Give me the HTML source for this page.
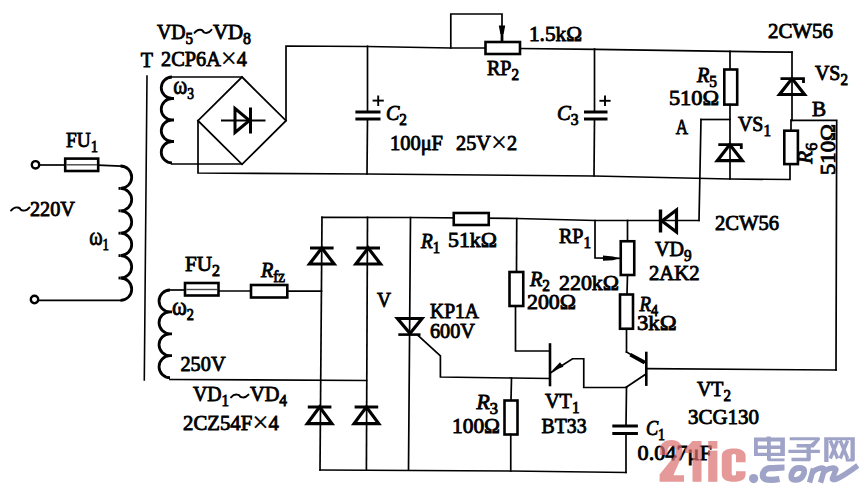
<!DOCTYPE html>
<html><head><meta charset="utf-8"><style>
html,body{margin:0;padding:0;background:#fff;width:859px;height:484px;overflow:hidden}
svg{display:block}
</style></head><body>
<svg width="859" height="484" viewBox="0 0 859 484">
<g fill="none" stroke="#000" stroke-linecap="square" stroke-linejoin="miter">
<circle cx="35.5" cy="164.8" r="3.7" stroke-width="2.4"/>
<circle cx="34.5" cy="299.5" r="3.7" stroke-width="2.4"/>
<path d="M39.00,165.00 L64.50,165.00" stroke-width="1.7"/>
<rect x="65.20" y="158.60" width="33.00" height="12.40" stroke-width="2.6" fill="#fff"/>
<path d="M67,164.8 L96.5,164.8" stroke="#444" stroke-width="1.4"/>
<path d="M98.20,165.20 L120.50,166.00" stroke-width="1.7"/>
<path d="M120.50,166.00 A11.20,11.20 0 0 1 120.50,188.40 A11.20,11.20 0 0 1 120.50,210.80 A11.20,11.20 0 0 1 120.50,233.20 A11.20,11.20 0 0 1 120.50,255.60 A11.20,11.20 0 0 1 120.50,278.00 A11.20,11.20 0 0 1 120.50,300.40" stroke-width="2.8" stroke-linecap="butt"/>
<path d="M120.50,188.40 L118.50,188.40" stroke-width="2.8" stroke-linecap="butt"/>
<path d="M120.50,210.80 L118.50,210.80" stroke-width="2.8" stroke-linecap="butt"/>
<path d="M120.50,233.20 L118.50,233.20" stroke-width="2.8" stroke-linecap="butt"/>
<path d="M120.50,255.60 L118.50,255.60" stroke-width="2.8" stroke-linecap="butt"/>
<path d="M120.50,278.00 L118.50,278.00" stroke-width="2.8" stroke-linecap="butt"/>
<path d="M38.20,300.40 L120.50,300.40" stroke-width="1.7"/>
<path d="M147.00,76.00 L144.30,380.00" stroke-width="1.6"/>
<path d="M172.00,77.00 A10.75,10.75 0 0 0 172.00,98.50 A10.75,10.75 0 0 0 172.00,120.00 A10.75,10.75 0 0 0 172.00,141.50 A10.75,10.75 0 0 0 172.00,163.00" stroke-width="2.8" stroke-linecap="butt"/>
<path d="M172.00,98.50 L174.00,98.50" stroke-width="2.8" stroke-linecap="butt"/>
<path d="M172.00,120.00 L174.00,120.00" stroke-width="2.8" stroke-linecap="butt"/>
<path d="M172.00,141.50 L174.00,141.50" stroke-width="2.8" stroke-linecap="butt"/>
<path d="M172.00,77.00 L242.00,77.00" stroke-width="1.7"/>
<path d="M172.00,164.00 L242.00,164.00" stroke-width="1.7"/>
<path d="M242.00,77.00 L286.00,120.70 L242.00,164.30 L198.00,120.70 Z" stroke-width="1.8"/>
<path d="M222.00,120.50 L264.50,120.50" stroke-width="2"/>
<path d="M235,108.5 L235,132.5 L249.5,120.5 Z" stroke-width="3" stroke-miterlimit="3"/>
<path d="M250.50,109.00 L250.50,132.00" stroke-width="3"/>
<path d="M198.00,120.50 L198.00,173.00 L367.00,174.00 L594.00,176.00 L730.00,179.00 L790.00,179.50 L790.00,164.00" stroke-width="1.7"/>
<path d="M286.00,120.50 L286.00,46.00 L367.50,46.50 L450.80,48.00 L485.50,48.00" stroke-width="1.7"/>
<rect x="485.50" y="42.00" width="34.50" height="12.00" stroke-width="2.6" fill="#fff"/>
<path d="M450.80,48.00 L450.80,14.00 L502.00,14.00 L502.00,41.00" stroke-width="1.7"/>
<path d="M502.00,30.00 L502.00,41.00" stroke-width="2.8"/>
<path d="M498.8,25.5 L505.2,25.5 L503.6,34 L500.4,34 Z" fill="#000" stroke="none"/>
<path d="M520.00,48.50 L596.00,49.30 L730.00,51.40 L792.00,52.20" stroke-width="1.7"/>
<path d="M367.50,46.30 L367.50,111.00" stroke-width="1.7"/>
<path d="M355.40,112.00 L380.50,112.00" stroke-width="3" stroke-linecap="butt"/>
<path d="M355.40,119.00 L380.50,119.00" stroke-width="3" stroke-linecap="butt"/>
<path d="M367.50,119.00 L367.00,174.00" stroke-width="1.7"/>
<path d="M372.60,100.60 L383.80,100.60" stroke-width="1.9" stroke-linecap="butt"/>
<path d="M378.20,95.50 L378.20,106.00" stroke-width="1.9" stroke-linecap="butt"/>
<path d="M594.50,49.00 L594.50,111.00" stroke-width="1.7"/>
<path d="M584.00,112.00 L607.50,112.00" stroke-width="3" stroke-linecap="butt"/>
<path d="M584.00,119.00 L607.50,119.00" stroke-width="3" stroke-linecap="butt"/>
<path d="M594.50,119.00 L594.00,176.00" stroke-width="1.7"/>
<path d="M599.40,100.80 L610.60,100.80" stroke-width="1.9" stroke-linecap="butt"/>
<path d="M605.00,95.50 L605.00,106.00" stroke-width="1.9" stroke-linecap="butt"/>
<path d="M730.00,51.40 L730.00,69.50" stroke-width="1.7"/>
<rect x="724.30" y="69.50" width="12.90" height="35.10" stroke-width="2.6" fill="#fff"/>
<path d="M730.00,104.60 L730.00,179.00" stroke-width="1.7"/>
<path d="M717.30,160.70 L742.30,160.70 L729.80,144.60 Z" stroke-width="3.2" stroke-linejoin="miter" stroke-miterlimit="3"/>
<path d="M718.30,144.60 L741.30,144.60 L741.30,149.10" stroke-width="2.8" stroke-linecap="butt" stroke-linejoin="miter"/>
<path d="M701.00,119.50 L730.00,119.50" stroke-width="1.7"/>
<path d="M701.00,119.50 L699.00,220.50" stroke-width="1.7"/>
<path d="M792.00,52.20 L792.00,120.30" stroke-width="1.7"/>
<path d="M779.50,94.50 L804.50,94.50 L792.00,78.60 Z" stroke-width="3.2" stroke-linejoin="miter" stroke-miterlimit="3"/>
<path d="M780.50,78.60 L803.50,78.60 L803.50,83.10" stroke-width="2.8" stroke-linecap="butt" stroke-linejoin="miter"/>
<path d="M791.50,120.30 L836.70,120.30 L836.00,370.00" stroke-width="1.7"/>
<path d="M791.00,120.00 L791.00,130.70" stroke-width="1.7"/>
<rect x="784.30" y="130.70" width="13.60" height="33.40" stroke-width="2.6" fill="#fff"/>
<path d="M322.00,217.30 L410.50,217.50 L517.00,218.50 L595.00,220.50 L699.00,220.50" stroke-width="1.7"/>
<path d="M322.00,217.30 L320.00,470.00" stroke-width="1.7"/>
<path d="M367.50,217.30 L366.40,470.00" stroke-width="1.7"/>
<path d="M410.50,217.50 L408.50,470.00" stroke-width="1.7"/>
<path d="M309.50,264.00 L334.10,264.00 L321.80,248.00 Z" stroke-width="3.2" stroke-linejoin="miter" stroke-miterlimit="3"/>
<path d="M310.00,248.00 L333.60,248.00" stroke-width="3" stroke-linecap="butt"/>
<path d="M355.90,264.00 L380.50,264.00 L368.20,248.00 Z" stroke-width="3.2" stroke-linejoin="miter" stroke-miterlimit="3"/>
<path d="M356.40,248.00 L380.00,248.00" stroke-width="3" stroke-linecap="butt"/>
<path d="M307.30,423.60 L331.90,423.60 L319.60,407.00 Z" stroke-width="3.2" stroke-linejoin="miter" stroke-miterlimit="3"/>
<path d="M307.80,407.00 L331.40,407.00" stroke-width="3" stroke-linecap="butt"/>
<path d="M354.10,423.60 L378.70,423.60 L366.40,407.00 Z" stroke-width="3.2" stroke-linejoin="miter" stroke-miterlimit="3"/>
<path d="M354.60,407.00 L378.20,407.00" stroke-width="3" stroke-linecap="butt"/>
<path d="M287.30,291.20 L321.50,291.20" stroke-width="1.7"/>
<path d="M170.00,379.50 L366.50,380.50" stroke-width="1.7"/>
<path d="M320.00,470.00 L510.75,471.00 L626.00,472.50" stroke-width="1.7"/>
<path d="M170.00,290.00 A10.95,10.95 0 0 0 170.00,311.90 A10.95,10.95 0 0 0 170.00,333.80 A10.95,10.95 0 0 0 170.00,355.70 A10.95,10.95 0 0 0 170.00,377.60" stroke-width="2.8" stroke-linecap="butt"/>
<path d="M170.00,311.90 L172.00,311.90" stroke-width="2.8" stroke-linecap="butt"/>
<path d="M170.00,333.80 L172.00,333.80" stroke-width="2.8" stroke-linecap="butt"/>
<path d="M170.00,355.70 L172.00,355.70" stroke-width="2.8" stroke-linecap="butt"/>
<path d="M170.00,290.00 L184.50,290.00" stroke-width="1.7"/>
<rect x="185.00" y="283.00" width="33.50" height="12.50" stroke-width="2.6" fill="#fff"/>
<path d="M187,289.5 L216.5,289.5" stroke="#444" stroke-width="1.4"/>
<path d="M219.00,291.00 L251.00,291.00" stroke-width="1.7"/>
<rect x="251.00" y="285.00" width="36.30" height="12.50" stroke-width="2.6" fill="#fff"/>
<path d="M397.5,318.5 L422,318.5 L410,333.5 Z" stroke-width="3.2" stroke-miterlimit="3"/>
<path d="M398.30,334.60 L420.50,334.60" stroke-width="2.6" stroke-linecap="butt"/>
<path d="M418.00,335.50 L440.40,355.80 L440.40,377.00 L511.50,378.00 L550.00,378.50" stroke-width="1.7"/>
<rect x="453.75" y="213.00" width="35.00" height="12.00" stroke-width="2.6" fill="#fff"/>
<path d="M516.75,218.50 L516.50,272.00" stroke-width="1.7"/>
<rect x="509.50" y="272.00" width="13.75" height="34.00" stroke-width="2.6" fill="#fff"/>
<path d="M515.50,306.00 L515.50,351.00 L550.00,351.00" stroke-width="1.7"/>
<path d="M595.00,220.50 L595.00,257.80 L620.00,258.30" stroke-width="1.7"/>
<path d="M603,255.6 L613,256.4 L619.5,258.2 L613,260.2 L603,260.8 Z" fill="#000" stroke="none"/>
<path d="M627.50,220.50 L627.50,241.25" stroke-width="1.7"/>
<rect x="620.75" y="241.25" width="13.50" height="33.75" stroke-width="2.6" fill="#fff"/>
<path d="M627.50,275.00 L627.00,294.50" stroke-width="1.7"/>
<rect x="620.00" y="294.50" width="13.00" height="34.25" stroke-width="2.6" fill="#fff"/>
<path d="M626.50,328.75 L626.50,352.00" stroke-width="1.7"/>
<path d="M676.5,210 L676.5,232 L662,221 Z" stroke-width="3.2" stroke-miterlimit="3"/>
<path d="M660.50,209.50 L660.50,232.50" stroke-width="3.4" stroke-linecap="butt"/>
<path d="M550.00,344.50 L550.00,385.00" stroke-width="2.6"/>
<path d="M551.00,372.50 L572.50,358.75 L583.75,358.75 L583.75,387.50 L626.50,387.50" stroke-width="1.7"/>
<path d="M552,370.8 L560,362.2 L563.5,366.8 Z" fill="#000" stroke="none"/>
<path d="M646.30,353.00 L646.30,384.60" stroke-width="2.6"/>
<path d="M626.50,352.00 L646.00,363.20" stroke-width="1.7"/>
<path d="M632.00,355.60 L643.00,361.60" stroke-width="3.8"/>
<path d="M646.00,374.00 L626.50,387.00" stroke-width="1.7"/>
<path d="M646.30,368.70 L836.00,370.00" stroke-width="1.7"/>
<path d="M626.50,387.00 L626.00,426.00" stroke-width="1.7"/>
<path d="M612.30,426.00 L637.90,426.00" stroke-width="3" stroke-linecap="butt"/>
<path d="M612.30,433.50 L637.90,433.50" stroke-width="3" stroke-linecap="butt"/>
<path d="M626.00,433.50 L626.00,472.50" stroke-width="1.7"/>
<path d="M511.50,378.00 L511.00,400.50" stroke-width="1.7"/>
<rect x="504.50" y="400.50" width="13.00" height="34.00" stroke-width="2.6" fill="#fff"/>
<path d="M510.75,434.50 L510.75,471.00" stroke-width="1.7"/>
<path d="M194.50,32.86 C198.75,27.14 203.00,30.78 203.00,31.30 S207.25,35.46 211.50,29.74" stroke-width="1.9" stroke-linecap="round"/>
<path d="M11.00,210.56 C15.65,204.84 20.30,208.48 20.30,209.00 S24.95,213.16 29.60,207.44" stroke-width="1.9" stroke-linecap="round"/>
<path d="M231.00,397.38 C235.38,392.32 239.75,395.54 239.75,396.00 S244.12,399.68 248.50,394.62" stroke-width="1.9" stroke-linecap="round"/>
</g>
<g font-family="Liberation Serif" fill="#000" stroke="#000" stroke-width="0.85">
<text x="156.99" y="38.70" font-size="21.00" textLength="36.03" lengthAdjust="spacingAndGlyphs" id="vd5"><tspan>VD</tspan><tspan dy="5.04" font-size="15.96">5</tspan></text>
<text x="212.97" y="38.70" font-size="21.00" textLength="38.06" lengthAdjust="spacingAndGlyphs" id="vd8"><tspan>VD</tspan><tspan dy="5.04" font-size="15.96">8</tspan></text>
<text x="140.79" y="67.30" font-size="21.63" textLength="12.24" lengthAdjust="spacingAndGlyphs" id="T"><tspan>T</tspan></text>
<text x="160.99" y="65.60" font-size="21.00" textLength="86.02" lengthAdjust="spacingAndGlyphs" id="2cp6a"><tspan>2CP6A</tspan><tspan dy="2.52" font-size="29.40" stroke-width="0.25">×</tspan><tspan dy="-2.52" font-size="21.00">4</tspan></text>
<text x="65.97" y="146.70" font-size="21.00" textLength="32.07" lengthAdjust="spacingAndGlyphs" id="fu1"><tspan>FU</tspan><tspan dy="5.04" font-size="15.96">1</tspan></text>
<text x="29.98" y="216.40" font-size="21.00" textLength="45.04" lengthAdjust="spacingAndGlyphs" id="220v"><tspan>220V</tspan></text>
<text x="89.19" y="244.50" font-size="21.00" textLength="19.82" lengthAdjust="spacingAndGlyphs" id="w1"><tspan font-size="25.20">ω</tspan><tspan dy="5.04" font-size="15.96">1</tspan></text>
<text x="173.34" y="93.50" font-size="21.00" textLength="20.71" lengthAdjust="spacingAndGlyphs" id="w3"><tspan font-size="25.20">ω</tspan><tspan dy="5.04" font-size="15.96">3</tspan></text>
<text x="528.94" y="40.90" font-size="21.00" textLength="53.11" lengthAdjust="spacingAndGlyphs" id="1.5k"><tspan>1.5kΩ</tspan></text>
<text x="486.97" y="74.50" font-size="21.00" textLength="32.03" lengthAdjust="spacingAndGlyphs" id="rp2"><tspan>RP</tspan><tspan dy="5.04" font-size="15.96">2</tspan></text>
<text x="385.94" y="120.30" font-size="21.00" textLength="21.06" lengthAdjust="spacingAndGlyphs" id="c2"><tspan font-style="italic">C</tspan><tspan dy="5.04" font-size="15.96">2</tspan></text>
<text x="389.94" y="149.50" font-size="21.00" textLength="53.06" lengthAdjust="spacingAndGlyphs" id="100uf"><tspan>100μF</tspan></text>
<text x="456.00" y="149.50" font-size="21.00" textLength="61.01" lengthAdjust="spacingAndGlyphs" id="25v"><tspan>25V</tspan><tspan dy="2.52" font-size="29.40" stroke-width="0.25">×</tspan><tspan dy="-2.52" font-size="21.00">2</tspan></text>
<text x="556.95" y="120.30" font-size="21.00" textLength="21.59" lengthAdjust="spacingAndGlyphs" id="c3"><tspan font-style="italic">C</tspan><tspan dy="5.04" font-size="15.96">3</tspan></text>
<text x="696.96" y="81.60" font-size="21.00" textLength="20.08" lengthAdjust="spacingAndGlyphs" id="r5"><tspan font-style="italic">R</tspan><tspan dy="5.04" font-size="15.96">5</tspan></text>
<text x="668.94" y="104.80" font-size="21.00" textLength="50.13" lengthAdjust="spacingAndGlyphs" id="510a"><tspan>510Ω</tspan></text>
<text x="675.87" y="133.70" font-size="21.00" textLength="12.25" lengthAdjust="spacingAndGlyphs" id="A"><tspan>A</tspan></text>
<text x="738.00" y="131.20" font-size="21.00" textLength="33.01" lengthAdjust="spacingAndGlyphs" id="vs1"><tspan>VS</tspan><tspan dy="5.04" font-size="15.96">1</tspan></text>
<text x="767.98" y="37.70" font-size="21.00" textLength="65.02" lengthAdjust="spacingAndGlyphs" id="2cw56a"><tspan>2CW56</tspan></text>
<text x="814.96" y="79.50" font-size="21.00" textLength="33.04" lengthAdjust="spacingAndGlyphs" id="vs2"><tspan>VS</tspan><tspan dy="5.04" font-size="15.96">2</tspan></text>
<text x="811.94" y="116.20" font-size="21.00" textLength="14.12" lengthAdjust="spacingAndGlyphs" id="B"><tspan>B</tspan></text>
<text x="185.00" y="270.50" font-size="21.00" textLength="35.03" lengthAdjust="spacingAndGlyphs" id="fu2"><tspan>FU</tspan><tspan dy="5.04" font-size="15.96">2</tspan></text>
<text x="260.95" y="277.00" font-size="21.00" textLength="24.11" lengthAdjust="spacingAndGlyphs" id="rfz"><tspan font-style="italic">R</tspan><tspan dy="5.04" font-size="15.96">fz</tspan></text>
<text x="171.94" y="315.00" font-size="21.00" textLength="22.06" lengthAdjust="spacingAndGlyphs" id="w2"><tspan font-size="25.20">ω</tspan><tspan dy="5.04" font-size="15.96">2</tspan></text>
<text x="180.49" y="371.00" font-size="21.00" textLength="45.04" lengthAdjust="spacingAndGlyphs" id="250v"><tspan>250V</tspan></text>
<text x="192.97" y="400.75" font-size="21.00" textLength="36.03" lengthAdjust="spacingAndGlyphs" id="vd1"><tspan>VD</tspan><tspan dy="5.04" font-size="15.96">1</tspan></text>
<text x="249.94" y="400.75" font-size="21.00" textLength="37.13" lengthAdjust="spacingAndGlyphs" id="vd4"><tspan>VD</tspan><tspan dy="5.04" font-size="15.96">4</tspan></text>
<text x="183.00" y="429.50" font-size="21.00" textLength="96.00" lengthAdjust="spacingAndGlyphs" id="2cz54"><tspan>2CZ54F</tspan><tspan dy="2.52" font-size="29.40" stroke-width="0.25">×</tspan><tspan dy="-2.52" font-size="21.00">4</tspan></text>
<text x="377.00" y="307.00" font-size="21.00" textLength="14.00" lengthAdjust="spacingAndGlyphs" id="V"><tspan>V</tspan></text>
<text x="430.00" y="318.40" font-size="21.00" textLength="49.02" lengthAdjust="spacingAndGlyphs" id="kp1a"><tspan>KP1A</tspan></text>
<text x="430.00" y="337.50" font-size="21.00" textLength="45.00" lengthAdjust="spacingAndGlyphs" id="600v"><tspan>600V</tspan></text>
<text x="420.95" y="248.30" font-size="21.00" textLength="19.07" lengthAdjust="spacingAndGlyphs" id="r1"><tspan font-style="italic">R</tspan><tspan dy="5.04" font-size="15.96">1</tspan></text>
<text x="447.96" y="246.50" font-size="21.00" textLength="49.07" lengthAdjust="spacingAndGlyphs" id="51k"><tspan>51kΩ</tspan></text>
<text x="558.95" y="243.20" font-size="21.00" textLength="32.10" lengthAdjust="spacingAndGlyphs" id="rp1"><tspan>RP</tspan><tspan dy="5.04" font-size="15.96">1</tspan></text>
<text x="529.98" y="286.00" font-size="21.00" textLength="20.06" lengthAdjust="spacingAndGlyphs" id="r2"><tspan font-style="italic">R</tspan><tspan dy="5.04" font-size="15.96">2</tspan></text>
<text x="559.00" y="290.00" font-size="21.00" textLength="60.02" lengthAdjust="spacingAndGlyphs" id="220k"><tspan>220kΩ</tspan></text>
<text x="526.97" y="308.50" font-size="21.00" textLength="49.04" lengthAdjust="spacingAndGlyphs" id="200"><tspan>200Ω</tspan></text>
<text x="715.00" y="229.50" font-size="21.00" textLength="64.00" lengthAdjust="spacingAndGlyphs" id="2cw56b"><tspan>2CW56</tspan></text>
<text x="655.00" y="256.25" font-size="21.00" textLength="36.52" lengthAdjust="spacingAndGlyphs" id="vd9"><tspan>VD</tspan><tspan dy="5.04" font-size="15.96">9</tspan></text>
<text x="648.98" y="279.50" font-size="21.00" textLength="50.55" lengthAdjust="spacingAndGlyphs" id="2ak2"><tspan>2AK2</tspan></text>
<text x="639.43" y="311.00" font-size="21.00" textLength="18.57" lengthAdjust="spacingAndGlyphs" id="r4"><tspan font-style="italic">R</tspan><tspan dy="5.04" font-size="15.96">4</tspan></text>
<text x="636.97" y="330.00" font-size="21.00" textLength="39.56" lengthAdjust="spacingAndGlyphs" id="3k"><tspan>3kΩ</tspan></text>
<text x="476.49" y="408.75" font-size="21.00" textLength="21.54" lengthAdjust="spacingAndGlyphs" id="r3"><tspan font-style="italic">R</tspan><tspan dy="5.04" font-size="15.96">3</tspan></text>
<text x="451.98" y="432.50" font-size="21.00" textLength="48.04" lengthAdjust="spacingAndGlyphs" id="100o"><tspan>100Ω</tspan></text>
<text x="545.00" y="408.00" font-size="21.00" textLength="34.54" lengthAdjust="spacingAndGlyphs" id="vt1"><tspan>VT</tspan><tspan dy="5.04" font-size="15.96">1</tspan></text>
<text x="541.49" y="432.50" font-size="21.00" textLength="45.04" lengthAdjust="spacingAndGlyphs" id="bt33"><tspan>BT33</tspan></text>
<text x="697.00" y="396.00" font-size="21.00" textLength="34.00" lengthAdjust="spacingAndGlyphs" id="vt2"><tspan>VT</tspan><tspan dy="5.04" font-size="15.96">2</tspan></text>
<text x="687.99" y="423.60" font-size="21.00" textLength="71.03" lengthAdjust="spacingAndGlyphs" id="3cg130"><tspan>3CG130</tspan></text>
<text x="645.93" y="435.40" font-size="21.00" textLength="19.14" lengthAdjust="spacingAndGlyphs" id="c1"><tspan font-style="italic">C</tspan><tspan dy="5.04" font-size="15.96">1</tspan></text>
<text x="637.60" y="460.00" font-size="21.00" textLength="74.22" lengthAdjust="spacingAndGlyphs" id="0047"><tspan>0.047μF</tspan></text>
<text x="0.00" y="0.00" font-size="21.00" textLength="21.00" lengthAdjust="spacingAndGlyphs" transform="translate(812,163.75) rotate(-90)"><tspan font-style="italic">R</tspan><tspan dy="5.04" font-size="15.96">6</tspan></text>
<text x="0.00" y="0.00" font-size="21.00" textLength="51.00" lengthAdjust="spacingAndGlyphs" transform="translate(835,175) rotate(-90)"><tspan>510Ω</tspan></text>
</g>

<g opacity="0.7" fill="#dc6e6e" stroke="none">
<path d="M659.8,455 L659.8,450 C660.2,443 665,440 671.5,440 C678.5,440 682.5,444 682.5,451 C682.5,457 679,462 673.5,475.2 L684,475.2 L684,481.8 L659.6,481.8 L659.6,474.5 L672,459 C674.5,456 675.5,454 675.5,451 C675.5,448 674,446 671.5,446 C669,446 667.5,448 667.5,451 L667.5,455 Z"/>
<path d="M685,449 L692.5,441 L701.5,441 L701.5,481.8 L692.5,481.8 L692.5,453 L685,453 Z"/>
<rect x="708.2" y="441" width="9.2" height="7.6"/>
<rect x="708.2" y="450.6" width="9.2" height="31.2"/>
<path d="M745.6,462.3 L736,462.3 L736,455.5 C736,454.5 735,454 734,454 C733,454 731.7,454.5 731.7,455.5 L731.7,474 C731.7,475 733,475.5 734,475.5 C735,475.5 736,475 736,474 L736,471.2 L745.6,471.2 L745.6,474 C745.6,479.5 741,481.8 734,481.8 C726,481.8 721.8,479 721.8,474 L721.8,456 C721.8,451 726,448.4 734,448.4 C741,448.4 745.6,451 745.6,456 Z"/>
</g>
<g opacity="0.7" fill="#777db0" stroke="none">
<path d="M754,437.6 L766.6,437.6 L766.6,436.6 L770.8,436.6 L770.8,437.6 L784.9,437.6 L784.9,455.9 L770.8,455.9 L770.8,458.4 L784.5,458.4 L784.5,461.2 L769.5,461.2 C767.8,461.2 767,460.5 767,459 L767,455.9 L754,455.9 Z M757.8,441.5 L757.8,445.4 L767,445.4 L767,441.5 Z M770.8,441.5 L770.8,445.4 L780.3,445.4 L780.3,441.5 Z M757.8,448.9 L757.8,452.7 L767,452.7 L767,448.9 Z M770.8,448.9 L770.8,452.7 L780.3,452.7 L780.3,448.9 Z" fill-rule="evenodd"/>
<path d="M789.7,437.2 L818.5,437.2 C820,437.2 820.5,438.5 819.8,439.8 L813.6,447.5 L810.8,447.5 L810.8,449.7 L819.9,449.7 L819.9,453.1 L810.8,453.1 L810.8,459 C810.8,460.5 810,461.3 808.5,461.3 L791.5,461.3 L791.5,457.8 L806.5,457.8 L806.5,453.1 L788.4,453.1 L788.4,449.7 L806.5,449.7 L806.5,447.5 L796.6,447.5 L796.6,444 L810.5,444 L815,440.2 L789.7,440.2 Z"/>
<path d="M824.2,437.2 L854.8,437.2 L854.8,459.5 C854.8,461 854,461.5 852.5,461.5 L846,461.5 L845.5,458.5 L850.5,458.5 L850.5,440.2 L828.5,440.2 L828.5,462.1 L824.2,462.1 Z"/>
<circle cx="753.6" cy="478.6" r="4.6"/>
</g>
<g opacity="0.7" fill="none" stroke="#777db0" stroke-linecap="butt" stroke-linejoin="round">
<path d="M830.3,440.5 L837.6,458.5 M837.6,440.5 L830.3,458.5 M840.2,440.5 L847.6,458.5 M847.6,440.5 L840.2,458.5" stroke-width="3.4"/>
<path d="M784.5,467.5 C781,467.5 776,468 770.5,468.2 C765,468.5 762.8,472 762.8,475.5 C762.8,479 766,479.8 771,479.8 C774,479.8 777,479.5 779.5,479" stroke-width="6.2"/>
<path d="M799,468 C792.5,468 791,475 791.3,477.3 C791.6,479.7 793.2,479.8 795.8,479.8 C802.5,479.8 804.6,473 804.2,470.5 C803.8,468.2 802,468 799,468 Z" stroke-width="5.8"/>
<path d="M809.5,482.6 L813.5,468.5 M811.5,475 C813.5,468.5 823,466.5 824.5,469.5 L820.5,482.6 M822.5,475 C824.5,468.5 834.5,466.5 836,469.5 L832.5,478 C831.5,481 836,481.5 857.8,465.5" stroke-width="5.4"/>
</g>

</svg>
</body></html>
